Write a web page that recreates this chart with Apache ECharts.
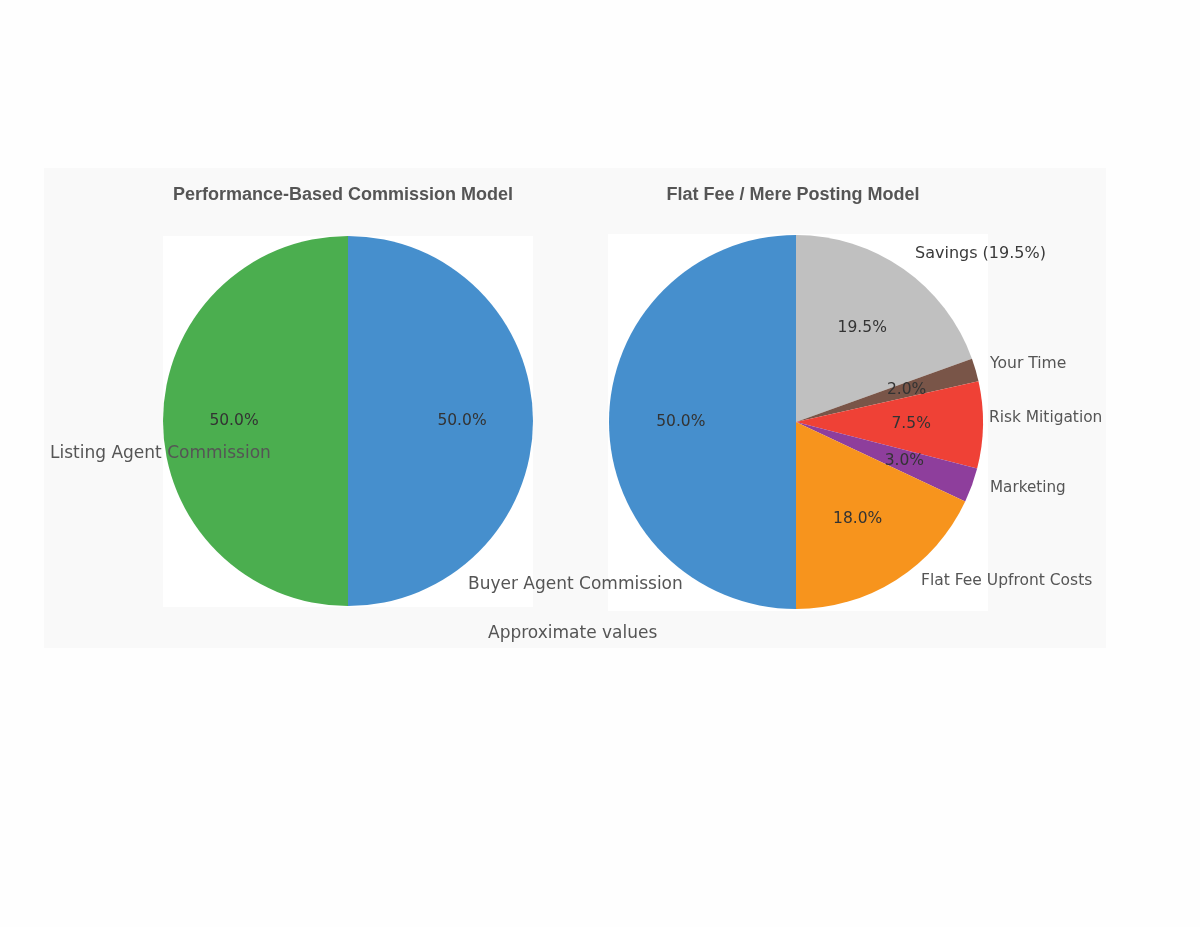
<!DOCTYPE html>
<html>
<head>
<meta charset="utf-8">
<script src="https://cdn.jsdelivr.net/npm/echarts@6/dist/echarts.min.js"></script>
<style>
html,body{margin:0;padding:0;background:#fefefe;}
#chart{width:1200px;height:927px;}
</style>
</head>
<body>
<div id="chart"></div>
<script>
// ---- data ----
const leftTitle = 'Performance-Based Commission Model';
const rightTitle = 'Flat Fee / Mere Posting Model';
const leftCategories = ['Buyer Agent Commission', 'Listing Agent Commission'];
const leftValues = [50.0, 50.0];
const rightCategories = ['Commission', 'Savings (19.5%)', 'Your Time', 'Risk Mitigation', 'Marketing', 'Flat Fee Upfront Costs'];
const rightValues = [50.0, 19.5, 2.0, 7.5, 3.0, 18.0];
const footnote = 'Approximate values';

// ---- styles / layout ----
const leftColors = ['#468fcd', '#4bae4f'];
const rightColors = ['#468fcd', '#c0c0c0', '#795548', '#ef4136', '#8e3e9c', '#f7941d'];
// right-pie data is ordered clockwise from 12 o'clock starting at Savings; the blue half comes last
const rightOrder = [1, 2, 3, 4, 5, 0];
// [x, y, fontSize, color]
const leftNamePos = [[468, 585, 17, '#555'], [50, 454, 17, '#555']];
const rightNamePos = {1: [915, 254, 16, '#3a3a3a'], 2: [990, 364, 15.6, '#555'], 3: [989, 418, 15.4, '#555'],
  4: [990, 488, 15.2, '#555'], 5: [921, 581, 15.5, '#555']};

const LC = [348, 421], LR = 185;
const RC = [796, 422], RR = 187;

function mk(cats, vals, colors, order) {
  const idx = order || cats.map((_, i) => i);
  return idx.map(i => ({name: cats[i], value: vals[i], itemStyle: {color: colors[i]}, _i: i}));
}
const leftData = mk(leftCategories, leftValues, leftColors);
const rightData = mk(rightCategories, rightValues, rightColors, rightOrder);

const baseFont = 'DejaVu Sans';
function pieBase(center, r, data) {
  return {
    type: 'pie', center: center, radius: r, startAngle: 90, clockwise: true,
    silent: true, animation: false, avoidLabelOverlap: false,
    label: {show: false}, labelLine: {show: false},
    emphasis: {disabled: true},
    itemStyle: {borderWidth: 0},
    data: data
  };
}
function pctOverlay(center, r, data) {
  // labels of a pie sit at half its radius: a 1.2x transparent overlay puts them at 0.6 r
  return {
    type: 'pie', center: center, radius: r * 1.2, startAngle: 90, clockwise: true,
    silent: true, animation: false, avoidLabelOverlap: false,
    itemStyle: {color: 'rgba(0,0,0,0)', borderWidth: 0},
    labelLine: {show: false}, emphasis: {disabled: true},
    label: {show: true, position: 'inside', color: '#333', fontFamily: baseFont, fontSize: 15.5,
      formatter: p => p.value.toFixed(1) + '%'},
    data: data.map(d => ({name: d.name, value: d.value}))
  };
}
function nameOverlay(center, r, data, posFn) {
  return {
    type: 'pie', center: center, radius: r, startAngle: 90, clockwise: true,
    silent: true, animation: false, avoidLabelOverlap: false,
    itemStyle: {color: 'rgba(0,0,0,0)', borderWidth: 0},
    labelLine: {show: false}, emphasis: {disabled: true},
    label: {show: true, position: 'inside', fontFamily: baseFont},
    labelLayout: function (params) {
      const pos = posFn(params.dataIndex);
      if (!pos) return {};
      return {x: pos[0], y: pos[1], align: 'left', verticalAlign: 'middle'};
    },
    data: data.map((d, i) => {
      const pos = posFn(i);
      return {name: d.name, value: d.value,
        label: pos ? {show: true, formatter: '{b}', fontSize: pos[2], color: pos[3]} : {show: false}};
    })
  };
}

const chart = echarts.init(document.getElementById('chart'), null, {renderer: 'canvas'});
chart.setOption({
  backgroundColor: '#fefefe',
  animation: false,
  graphic: [
    {type: 'rect', z: -10, shape: {x: 44, y: 168, width: 1062, height: 480}, style: {fill: '#f9f9f9'}},
    {type: 'rect', z: -9, shape: {x: 163, y: 236, width: 370, height: 371}, style: {fill: '#ffffff'}},
    {type: 'rect', z: -9, shape: {x: 608, y: 234, width: 380, height: 377}, style: {fill: '#ffffff'}},
    {type: 'text', x: 488, y: 634, style: {text: footnote, fill: '#555', font: '17px "DejaVu Sans"', textVerticalAlign: 'middle', verticalAlign: 'middle'}}
  ],
  title: [
    {text: leftTitle, left: 338, top: 181, textAlign: 'center',
      textStyle: {fontFamily: 'Liberation Sans', fontWeight: 'bold', fontSize: 18, color: '#555'}},
    {text: rightTitle, left: 788, top: 181, textAlign: 'center',
      textStyle: {fontFamily: 'Liberation Sans', fontWeight: 'bold', fontSize: 18, color: '#555'}}
  ],
  series: [
    pieBase(LC, LR, leftData),
    pieBase(RC, RR, rightData),
    pctOverlay(LC, LR, leftData),
    pctOverlay(RC, RR, rightData),
    nameOverlay(LC, LR, leftData, i => leftNamePos[leftData[i]._i]),
    nameOverlay(RC, RR, rightData, i => rightNamePos[rightData[i]._i])
  ]
});
</script>
</body>
</html>
